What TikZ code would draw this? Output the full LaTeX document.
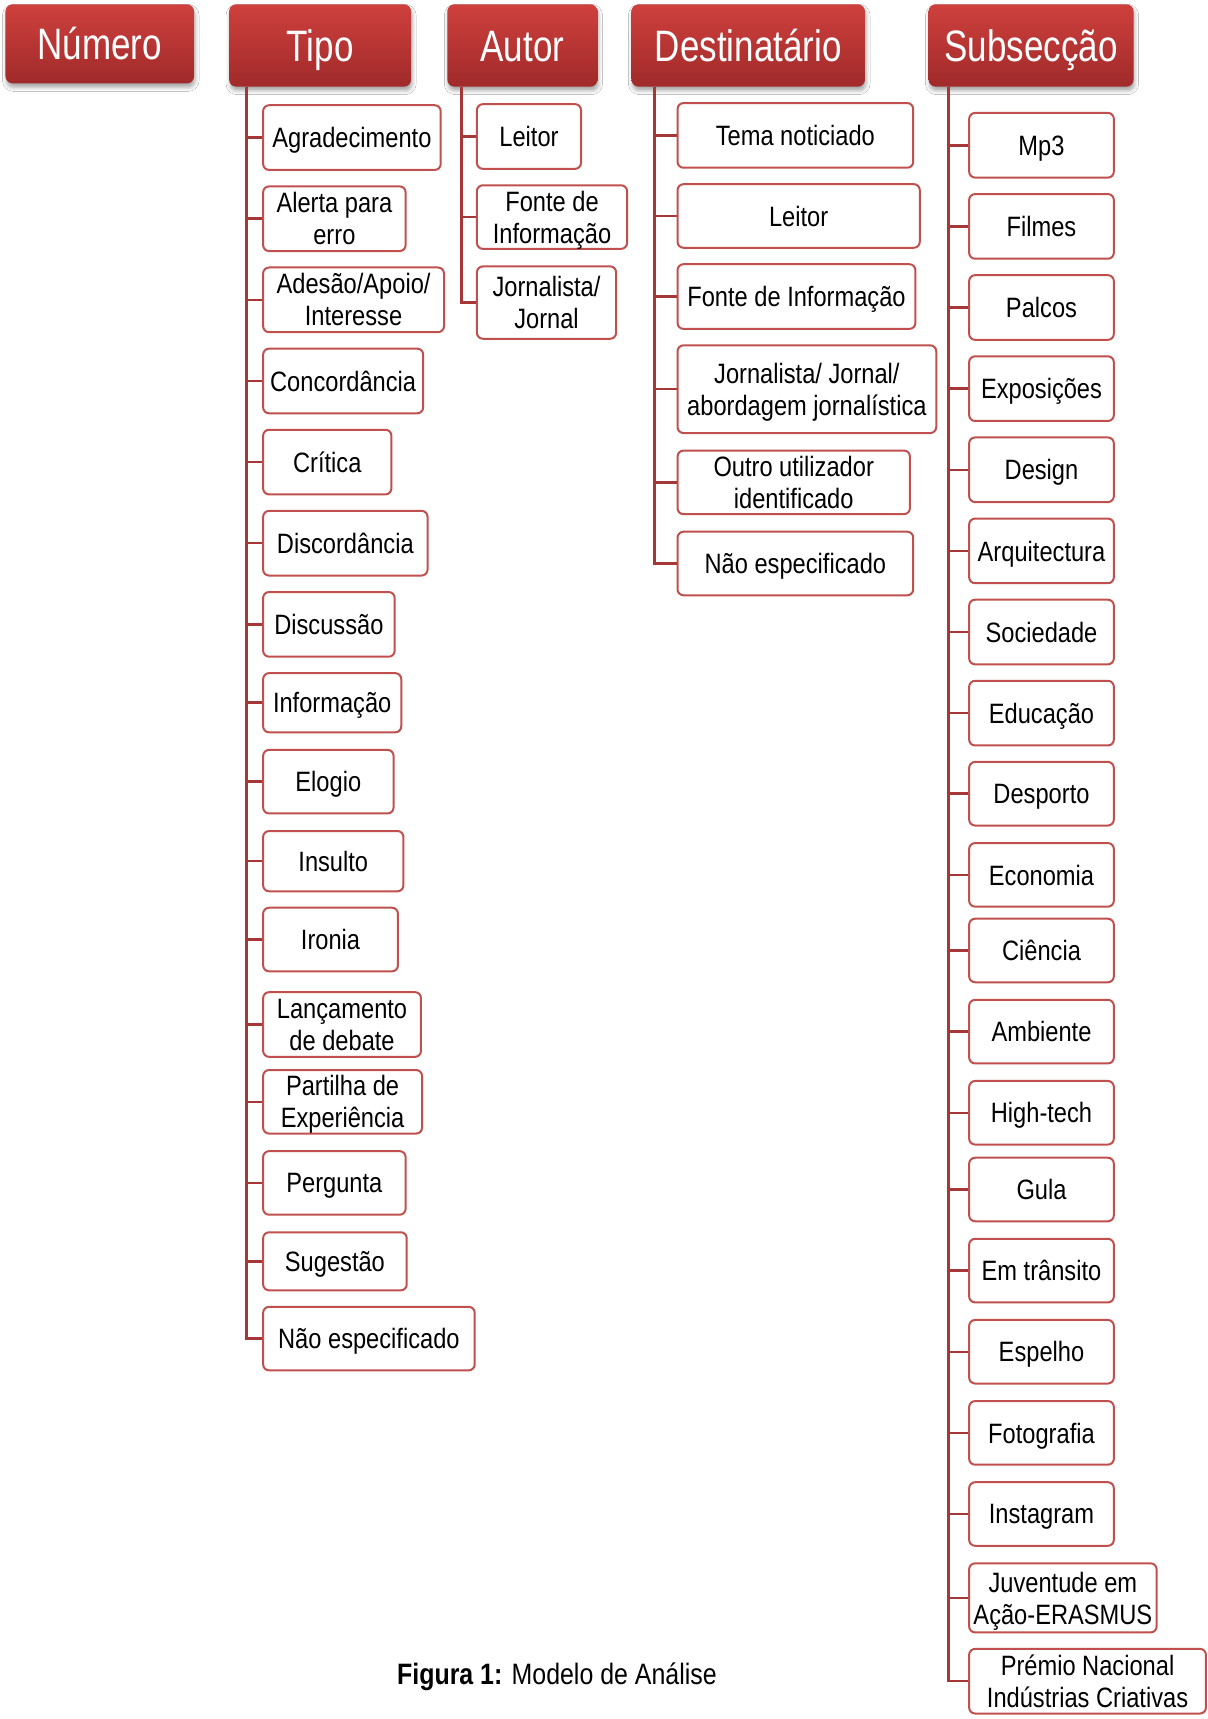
\documentclass[tikz,border=0pt]{standalone}
\usepackage{fontspec}
\setmainfont{Liberation Sans}
\newfontfamily\bodyf[FakeStretch=0.845]{Liberation Sans}
\newfontfamily\headf[FakeStretch=0.795]{Liberation Sans}
\usetikzlibrary{shadows.blur}
\definecolor{boxred}{RGB}{192,80,77}
\definecolor{linered}{RGB}{165,55,55}
\definecolor{headtop}{RGB}{206,64,61}
\definecolor{headbot}{RGB}{160,42,42}
\tikzset{
  headbox/.style={rounded corners=7pt, top color=headtop, bottom color=headbot, draw=none,
    text=white, font=\headf\fontsize{44}{48}\selectfont, inner sep=0pt,
    text height=32pt, text depth=0pt,
    blur shadow={shadow xshift=1pt, shadow yshift=-4pt, shadow blur radius=4pt, shadow opacity=35}},
  itembox/.style={rounded corners=6pt, draw=boxred, line width=2pt, fill=white, text=black,
    font=\bodyf\fontsize{28}{32}\selectfont, align=center, inner sep=0pt, text depth=0pt},
  conn/.style={draw=linered, line width=2.5pt},
}
\newcommand\bx[7]{%
  \node[#1, minimum width={(#5-#3)*1.0963pt}, minimum height={(#6-#4)*1.0963pt}]
    (#2) at ({(#3+#5)/2},{(#4+#6)/2}) {#7};}
\begin{document}
\begin{tikzpicture}[x=1.0963pt, y=-1.0963pt]
\useasboundingbox[fill=white] (0,0) rectangle (1101,1568);
% headers
\bx{headbox}{hnum}{5}{4}{177}{76}{Número}
\bx{headbox}{htipo}{209}{4}{375}{79}{Tipo}
\bx{headbox}{haut}{408}{4}{545}{79}{Autor}
\bx{headbox}{hdest}{576}{4}{789}{79}{Destinatário}
\bx{headbox}{hsub}{847}{4}{1034}{79}{Subsecção}
% Tipo
\bx{itembox}{t1}{240}{96}{402}{155}{Agradecimento}
\bx{itembox}{t2}{240}{170}{370}{229}{Alerta para\\erro}
\bx{itembox}{t3}{240}{244}{405}{303}{Adesão/Apoio/\\Interesse}
\bx{itembox}{t4}{240}{318}{386}{377}{Concordância}
\bx{itembox}{t5}{240}{392}{357}{451}{Crítica}
\bx{itembox}{t6}{240}{466}{390}{525}{Discordância}
\bx{itembox}{t7}{240}{540}{360}{599}{Discussão}
\bx{itembox}{t8}{240}{614}{366}{668}{Informação}
\bx{itembox}{t9}{240}{684}{359}{742}{Elogio}
\bx{itembox}{t10}{240}{758}{368}{813}{Insulto}
\bx{itembox}{t11}{240}{828}{363}{886}{Ironia}
\bx{itembox}{t12}{240}{905}{384}{964}{Lançamento\\de debate}
\bx{itembox}{t13}{240}{976}{385}{1034}{Partilha de\\Experiência}
\bx{itembox}{t14}{240}{1050}{370}{1108}{Pergunta}
\bx{itembox}{t15}{240}{1124}{371}{1177}{Sugestão}
\bx{itembox}{t16}{240}{1192}{433}{1250}{Não especificado}
\coordinate (tipoT) at (225,79);
\foreach \i in {1,...,16} \draw[conn] (tipoT) |- (t\i.west);
% Autor
\bx{itembox}{a1}{435}{95}{530}{154}{Leitor}
\bx{itembox}{a2}{435}{169}{572}{227}{Fonte de\\Informação}
\bx{itembox}{a3}{435}{243}{562}{309}{Jornalista/\\Jornal}
\coordinate (autT) at (421,79);
\foreach \i in {1,2,3} \draw[conn] (autT) |- (a\i.west);
% Destinatario
\bx{itembox}{d1}{618}{94}{833}{153}{Tema noticiado}
\bx{itembox}{d2}{618}{168}{839}{226}{Leitor}
\bx{itembox}{d3}{618}{241}{835}{300}{Fonte de Informação}
\bx{itembox}{d4}{618}{315}{854}{395}{Jornalista/ Jornal/\\abordagem jornalística}
\bx{itembox}{d5}{618}{411}{830}{469}{Outro utilizador\\identificado}
\bx{itembox}{d6}{618}{485}{833}{543}{Não especificado}
\coordinate (destT) at (597,79);
\foreach \i in {1,...,6} \draw[conn] (destT) |- (d\i.west);
% Subseccao
\bx{itembox}{s1}{884}{103}{1016}{162}{Mp3}
\bx{itembox}{s2}{884}{177}{1016}{236}{Filmes}
\bx{itembox}{s3}{884}{251}{1016}{310}{Palcos}
\bx{itembox}{s4}{884}{325}{1016}{384}{Exposições}
\bx{itembox}{s5}{884}{399}{1016}{458}{Design}
\bx{itembox}{s6}{884}{473}{1016}{532}{Arquitectura}
\bx{itembox}{s7}{884}{547}{1016}{606}{Sociedade}
\bx{itembox}{s8}{884}{621}{1016}{680}{Educação}
\bx{itembox}{s9}{884}{695}{1016}{753}{Desporto}
\bx{itembox}{s10}{884}{769}{1016}{827}{Economia}
\bx{itembox}{s11}{884}{838}{1016}{896}{Ciência}
\bx{itembox}{s12}{884}{912}{1016}{970}{Ambiente}
\bx{itembox}{s13}{884}{986}{1016}{1044}{High-tech}
\bx{itembox}{s14}{884}{1056}{1016}{1114}{Gula}
\bx{itembox}{s15}{884}{1130}{1016}{1188}{Em trânsito}
\bx{itembox}{s16}{884}{1204}{1016}{1262}{Espelho}
\bx{itembox}{s17}{884}{1278}{1016}{1336}{Fotografia}
\bx{itembox}{s18}{884}{1352}{1016}{1410}{Instagram}
\bx{itembox}{s19}{884}{1426}{1055}{1489}{Juventude em\\Ação-ERASMUS}
\bx{itembox}{s20}{884}{1504}{1100}{1563}{Prémio Nacional\\Indústrias Criativas}
\coordinate (subT) at (865,79);
\foreach \i in {1,...,20} \draw[conn] (subT) |- (s\i.west);
% caption
\node[font=\bodyf\fontsize{29.5}{33}\selectfont, inner sep=0pt] (cap) at (508,1529)
  {\textbf{Figura 1:} Modelo de Análise};
\end{tikzpicture}
\end{document}
